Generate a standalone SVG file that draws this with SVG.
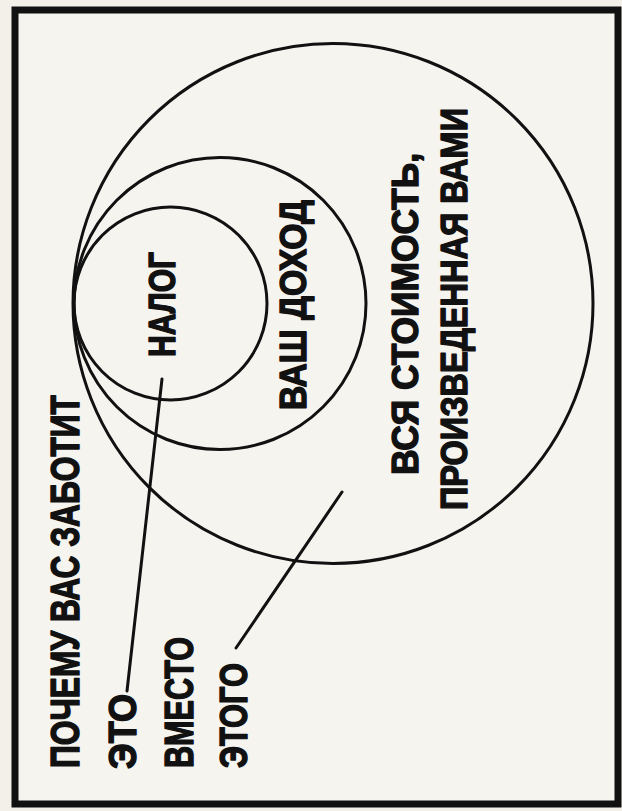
<svg xmlns="http://www.w3.org/2000/svg" width="622" height="811" viewBox="0 0 622 811">
<style>
.ring{fill:none;stroke:#111;stroke-width:3}
.lead{stroke:#111;stroke-width:3;stroke-linecap:round;fill:none}
.lbl{font-family:"Liberation Sans Narrow","Liberation Sans",Arial,sans-serif;font-weight:bold;fill:#111;stroke:#111;stroke-width:1.4;stroke-linejoin:round}
</style>
<rect x="0" y="0" width="622" height="811" fill="#f3f0ea"/>
<rect id="frame" x="15" y="10" width="603" height="794" fill="#f6f4ef" stroke="#111" stroke-width="7"/>
<g id="total">
<circle class="ring" cx="333" cy="303.5" r="260"/>
<text class="lbl" font-size="36" transform="translate(418,475) rotate(-90)" textLength="322" lengthAdjust="spacingAndGlyphs">ВСЯ СТОИМОСТЬ,</text>
<text class="lbl" font-size="36" transform="translate(467,510) rotate(-90)" textLength="402" lengthAdjust="spacingAndGlyphs">ПРОИЗВЕДЕННАЯ ВАМИ</text>
</g>
<g id="income">
<circle class="ring" cx="220" cy="303.5" r="146"/>
<text class="lbl" font-size="36" transform="translate(306,410) rotate(-90)" textLength="210" lengthAdjust="spacingAndGlyphs">ВАШ ДОХОД</text>
</g>
<g id="tax">
<circle class="ring" cx="170.5" cy="303.5" r="96.5"/>
<text class="lbl" font-size="37" transform="translate(175,357) rotate(-90)" textLength="105" lengthAdjust="spacingAndGlyphs">НАЛОГ</text>
</g>
<g id="caption">
<text class="lbl" font-size="40" transform="translate(79,768) rotate(-90)" textLength="373" lengthAdjust="spacingAndGlyphs">ПОЧЕМУ ВАС ЗАБОТИТ</text>
</g>
<g id="this">
<text class="lbl" font-size="39" transform="translate(136,769) rotate(-90)" textLength="75" lengthAdjust="spacingAndGlyphs">ЭТО</text>
</g>
<g id="instead">
<text class="lbl" font-size="40" transform="translate(193,768) rotate(-90)" textLength="131" lengthAdjust="spacingAndGlyphs">ВМЕСТО</text>
</g>
<g id="that">
<text class="lbl" font-size="39" transform="translate(247,768) rotate(-90)" textLength="105" lengthAdjust="spacingAndGlyphs">ЭТОГО</text>
</g>
<g id="connectors">
<line class="lead" x1="162" y1="379" x2="127" y2="691"/>
<line class="lead" x1="342" y1="492" x2="236" y2="648"/>
</g>
</svg>
